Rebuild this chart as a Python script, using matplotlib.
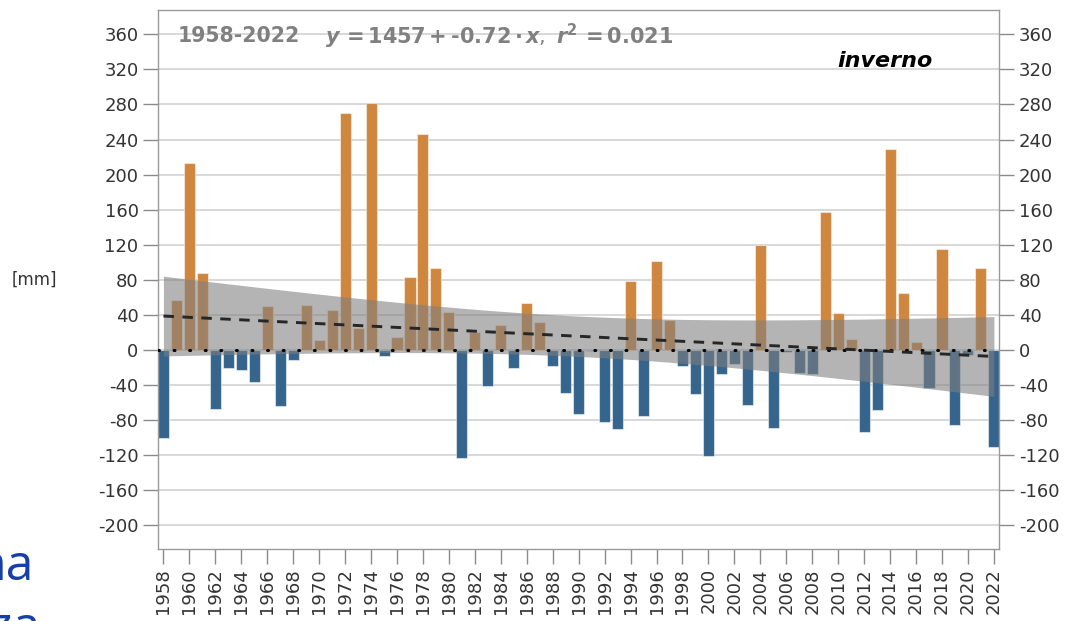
import numpy as np
import matplotlib.pyplot as plt

# winter precipitation anomaly per year [mm]
years = list(range(1958, 2023))
anomalia = [
    -100, 57, 213, 88, -67, -20, -23, -37, 50, -64,
    -11, 51, 11, 46, 270, 25, 282, -7, 15, 83,
    246, 93, 43, -123, 20, -41, 28, -20, 54, 32,
    -18, -49, -73, -1, -82, -90, 79, -75, 102, 34,
    -18, -50, -121, -27, -16, -63, 120, -89, -2, -26,
    -27, 157, 42, 13, -93, -68, 229, 65, 9, -43,
    115, -86, -6, 93, -111,
]
y_ticks = list(range(-200, 361, 40))
x_ticks = list(range(1958, 2023, 2))

periodo = "1958-2022"
intercetta = "1457"
pendenza = "-0.72"
r2 = "0.021"
stagione = "inverno"

ORANGE = "#cf863f"
BLUE = "#35648c"

x = np.array(years, dtype=float)
y = np.array(anomalia, dtype=float)

# linear trend and 95% confidence band of the mean
coef = np.polyfit(x, y, 1)
fit = np.polyval(coef, x)
n = len(x)
s = np.sqrt(((y - fit) ** 2).sum() / (n - 2))
dx = x - x.mean()
se = s * np.sqrt(1 / n + dx**2 / (dx**2).sum())
t95 = 1.998

fig = plt.figure(figsize=(10.73, 6.21), dpi=100)
ax = fig.add_axes([0.14725, 0.1164, 0.7841, 0.8675])

ax.bar(x, y, width=0.85, color=[ORANGE if v >= 0 else BLUE for v in y],
       edgecolor=(1, 1, 1, 0.5), linewidth=0.8, zorder=2)
ax.fill_between(x, fit - t95 * se, fit + t95 * se, color="#7f7f7f",
                alpha=0.58, linewidth=0, zorder=3)
ax.axhline(0, color="black", lw=2.2, linestyle=(0, (0.3, 4.8)),
           dash_capstyle="round", zorder=4)
ax.plot(x, fit, color="#262626", lw=2.1, dashes=(3.6, 2.9), zorder=5)

ax.set_xlim(1957.58, 2022.42)
ax.set_ylim(-226.6, 387.7)
ax.set_yticks(y_ticks)
ax.set_yticklabels([str(v) for v in y_ticks])
ax.set_xticks(x_ticks)
ax.set_xticklabels([str(v) for v in x_ticks], rotation=90)
ax.yaxis.grid(True, color="#d2d2d2", lw=1.2, zorder=0)
ax.set_axisbelow(True)

ax.tick_params(axis="both", direction="out", length=11, width=1,
               color="#8a8a8a", labelcolor="#333333", labelsize=13, pad=3)
ax.tick_params(axis="y", right=True, labelright=True)
for sp in ax.spines.values():
    sp.set_color("#9a9a9a")
    sp.set_linewidth(1)

plt.rcParams["mathtext.fontset"] = "dejavusans"
fig.text(178 / 1073, 1 - 36 / 621, periodo, color="#808080",
         fontsize=14.8, fontweight="bold", va="center", ha="left")
eq = (r"$\boldsymbol{y}\mathbf{\,=1457+}\mathbf{" + pendenza.replace("-", "\u2010") + r"}"
      r"\,\mathbf{\cdot}\,\boldsymbol{x},\ \boldsymbol{r}^{\mathbf{2}}\mathbf{\,=" + r2 + r"}$")
eq = eq.replace("1457", intercetta)
fig.text(325 / 1073, 1 - 36 / 621, eq, color="#808080",
         fontsize=15, va="center", ha="left")
fig.text(885 / 1073, 1 - 61 / 621, stagione, color="black", fontsize=16,
         fontweight="bold", fontstyle="italic", va="center", ha="center")

fig.text(12 / 1073, 1 - 280 / 621, "[mm]", color="#333333", fontsize=12,
         va="center", ha="left")

# slide text peeking in at the lower left
fig.text(34 / 1073, 1 - 580 / 621, "na", color="#1740a6", fontsize=36,
         family="Open Sans", ha="right", va="baseline")
fig.text(40 / 1073, 1 - 642 / 621, "za", color="#1740a6", fontsize=36,
         family="Open Sans", ha="right", va="baseline")

fig.savefig("out.png", dpi=100)
